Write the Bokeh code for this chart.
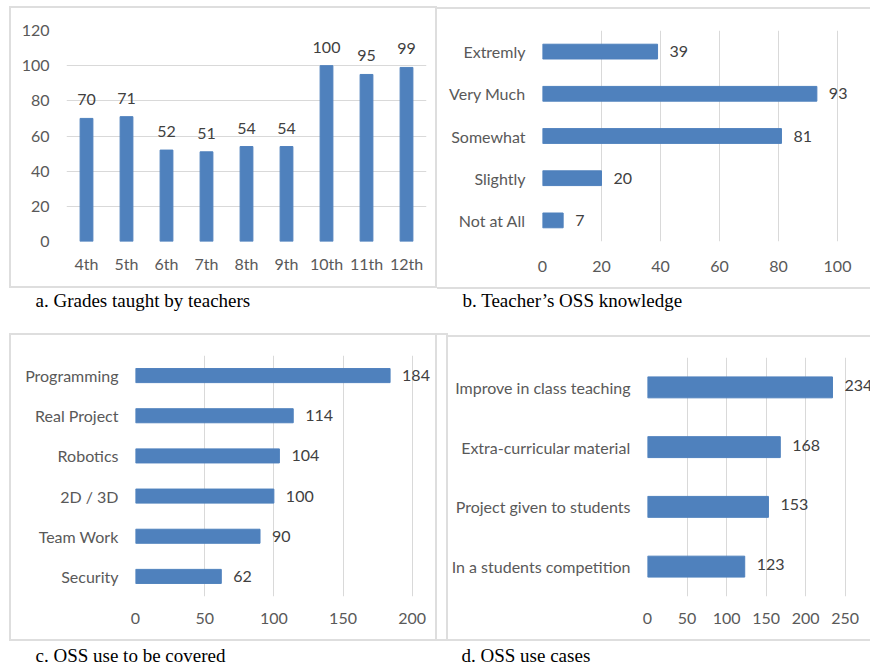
from bokeh.plotting import figure
from bokeh.layouts import column, row
from bokeh.models import LabelSet, FixedTicker, Range1d, FactorRange, ColumnDataSource
from bokeh.core.properties import value
from bokeh.embed import file_html
from bokeh.resources import INLINE

# ---- data -------------------------------------------------------------
grades = ["4th", "5th", "6th", "7th", "8th", "9th", "10th", "11th", "12th"]
grade_counts = [70, 71, 52, 51, 54, 54, 100, 95, 99]

knowledge_levels = ["Extremly", "Very Much", "Somewhat", "Slightly", "Not at All"]
knowledge_counts = [39, 93, 81, 20, 7]

topics = ["Programming", "Real Project", "Robotics", "2D / 3D", "Team Work", "Security"]
topic_counts = [184, 114, 104, 100, 90, 62]

use_cases = ["Improve in class teaching", "Extra-curricular material",
             "Project given to students", "In a students competition"]
use_case_counts = [234, 168, 153, 123]

captions = ["a. Grades taught by teachers", "b. Teacher\u2019s OSS knowledge",
            "c. OSS use to be covered", "d. OSS use cases"]

# ---- styling ----------------------------------------------------------
BAR = "#4f81bd"
GRID = "#d9d9d9"
LINE = "2px solid #dedede"
AXIS_TXT = "#595959"
VAL_TXT = "#404040"
SANS = "Lato"
SERIF = "Liberation Serif"
FS = "16px"


def base_figure(width, height, x_range, y_range, left, right, top, bottom):
    p = figure(width=width, height=height, x_range=x_range, y_range=y_range,
               title=None, output_backend="svg", toolbar_location=None,
               min_border_left=left, min_border_right=right,
               min_border_top=top, min_border_bottom=bottom)
    p.outline_line_color = None
    p.background_fill_color = "white"
    p.border_fill_color = "white"
    for ax in (p.xaxis[0], p.yaxis[0]):
        ax.axis_line_color = None
        ax.major_tick_line_color = None
        ax.minor_tick_line_color = None
        ax.major_tick_out = 0
        ax.major_tick_in = 0
        ax.minor_tick_out = 0
        ax.major_label_text_font = SANS
        ax.major_label_text_font_size = FS
        ax.major_label_text_color = AXIS_TXT
    return p


def caption_figure(text, width, height, x, baseline):
    p = figure(width=width, height=height, x_range=Range1d(0, width),
               y_range=Range1d(height, 0), title=None, output_backend="svg",
               toolbar_location=None, x_axis_type=None, y_axis_type=None,
               min_border=0)
    p.outline_line_color = None
    p.xgrid.visible = False
    p.ygrid.visible = False
    p.text(x=[x], y=[baseline], text=[text], text_font=value(SERIF),
           text_font_size="19px", text_color="black",
           text_baseline="alphabetic", text_align="left")
    return p


def hbar_panel(cats, vals, xmax, xend, step, width, height, left, right, top, bottom,
               dy=0, tick_standoff=16):
    src = ColumnDataSource(dict(cat=cats, val=vals, txt=[str(v) for v in vals]))
    p = base_figure(width, height, Range1d(0, xend), FactorRange(*reversed(cats)),
                    left, right, top, bottom)
    p.hbar(y="cat", right="val", height=0.35, source=src,
           fill_color=BAR, line_color=BAR)
    p.add_layout(LabelSet(x="val", y="cat", text="txt", source=src,
                          x_offset=12, y_offset=dy, text_align="left",
                          text_baseline="middle", text_font=value(SANS),
                          text_font_size=FS, text_color=VAL_TXT))
    p.xaxis[0].ticker = FixedTicker(ticks=list(range(0, xmax + 1, step)))
    p.xaxis[0].major_label_standoff = tick_standoff
    p.yaxis[0].major_label_standoff = 17
    p.ygrid.grid_line_color = None
    p.xgrid.grid_line_color = GRID
    p.xgrid.grid_line_width = 1
    return p


# ---- a. grades taught (vertical bars) ----------------------------------
src_a = ColumnDataSource(dict(g=grades, n=grade_counts, txt=[str(v) for v in grade_counts]))
fa = base_figure(424, 278, FactorRange(*grades), Range1d(0, 120), 55, 9, 22, 45)
fa.vbar(x="g", top="n", width=0.32, source=src_a, fill_color=BAR, line_color=BAR)
fa.add_layout(LabelSet(x="g", y="n", text="txt", source=src_a, y_offset=13,
                       text_align="center", text_baseline="alphabetic",
                       text_font=value(SANS), text_font_size=FS, text_color=VAL_TXT))
fa.yaxis[0].ticker = FixedTicker(ticks=list(range(0, 121, 20)))
fa.yaxis[0].major_label_standoff = 17
fa.xaxis[0].major_label_standoff = 12
fa.xgrid.grid_line_color = None
fa.ygrid.grid_line_color = GRID
fa.ygrid.grid_line_width = 1

box_a = column(fa, styles={"border": LINE}, margin=(6, 0, 0, 9))
panel_a = column(box_a, caption_figure(captions[0], 437, 32, 35, 12))

# ---- b. OSS knowledge ---------------------------------------------------
fb = hbar_panel(knowledge_levels, knowledge_counts, 100, 110.5, 20,
                433, 278, 105, 2, 21, 46, tick_standoff=19)
box_b = column(fb, styles={"border-top": LINE, "border-bottom": LINE},
               margin=(7, 0, 0, 0))
panel_b = column(box_b, caption_figure(captions[1], 433, 31, 25, 11))

# ---- c. topics to be covered --------------------------------------------
fc = hbar_panel(topics, topic_counts, 200, 216.1, 50, 424, 304, 124, 1, 20, 43,
                tick_standoff=16)
inner_c = column(fc, styles={"border-right": LINE}, margin=(0, 9, 0, 0))
box_c = column(inner_c, styles={"border": LINE}, margin=(13, 0, 0, 9))
panel_c = column(box_c, caption_figure(captions[2], 448, 21, 35, 14))

# ---- d. use cases ---------------------------------------------------------
fd = hbar_panel(use_cases, use_case_counts, 250, 282.1, 50, 422, 302, 199, 0, 20, 43,
                dy=2, tick_standoff=16)
box_d = column(fd, styles={"border-top": LINE, "border-bottom": LINE},
               margin=(15, 0, 0, 0))
panel_d = column(box_d, caption_figure(captions[3], 422, 21, 13, 14))

layout = column(row(panel_a, panel_b), row(panel_c, panel_d))
open("out.html", "w").write(file_html(layout, INLINE))
